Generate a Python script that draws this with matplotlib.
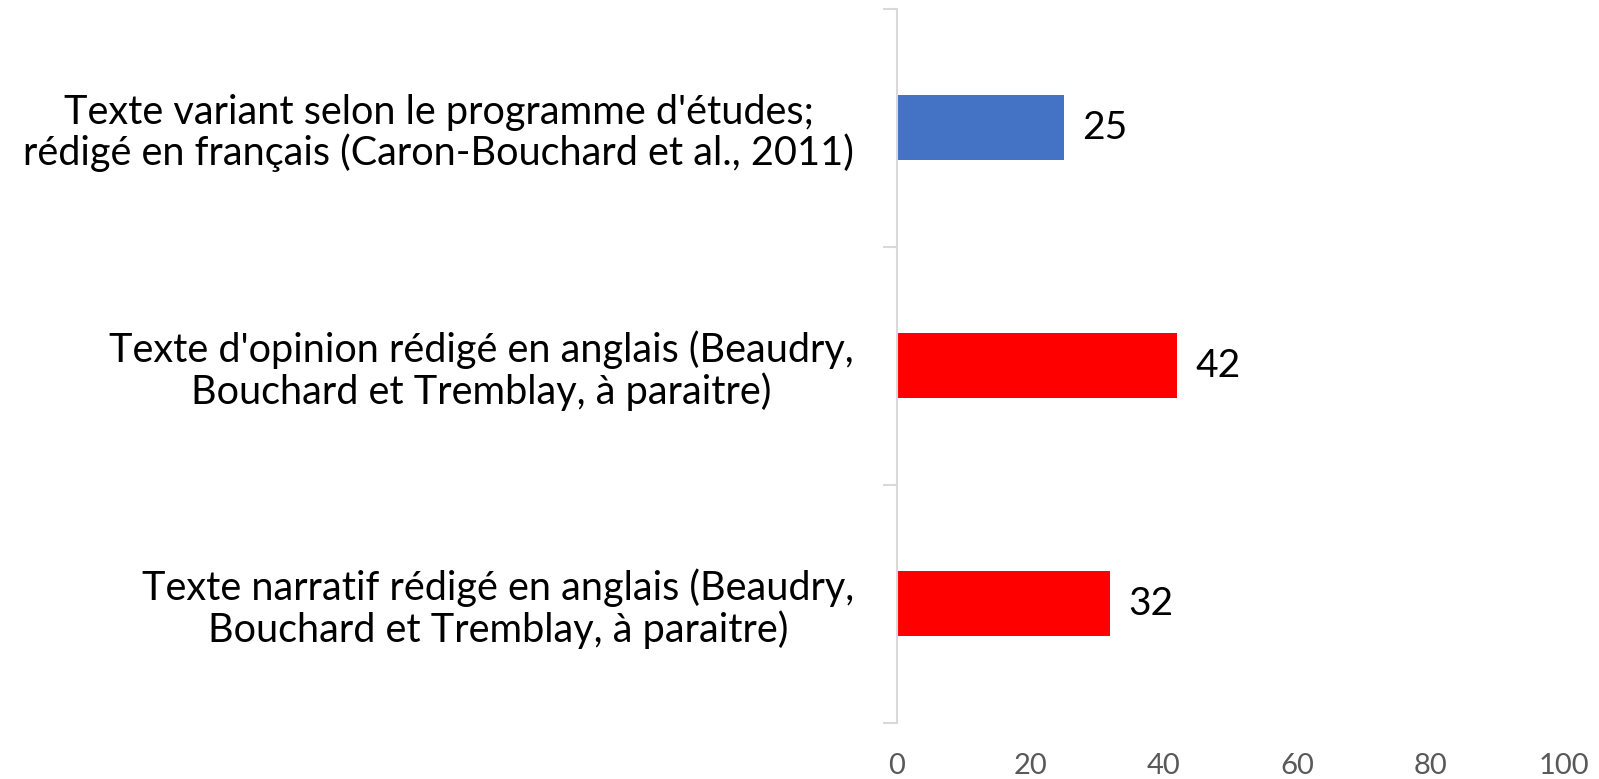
import matplotlib.pyplot as plt
import numpy as np

# data (top to bottom)
categories = [
    "Texte variant selon le programme d'études;\nrédigé en français (Caron-Bouchard et al., 2011)",
    "Texte d'opinion rédigé en anglais (Beaudry,\nBouchard et Tremblay, à paraitre)",
    "Texte narratif rédigé en anglais (Beaudry,\nBouchard et Tremblay, à paraitre)",
]
values = [25, 42, 32]
colors = ['#4472C4', '#FF0000', '#FF0000']
xticks = [0, 20, 40, 60, 80, 100]

plt.rcParams['font.family'] = ['Lato', 'DejaVu Sans']

fig = plt.figure(figsize=(15.99, 7.79), dpi=100)
ax = fig.add_axes([0.561, 0.072, 0.417, 0.9165])

pos = np.arange(len(categories))
ax.barh(pos, values, height=0.273, color=colors)
ax.set_ylim(len(categories) - 0.5, -0.5)
ax.set_xlim(0, 100)

# data labels
for p, v in zip(pos, values):
    ax.annotate(str(v), xy=(v, p), xytext=(13, 0), textcoords='offset points',
                va='center', ha='left', fontsize=28, color='black')

# spines
for s in ['top', 'right', 'bottom']:
    ax.spines[s].set_visible(False)
ax.spines['left'].set_color('#D9D9D9')
ax.spines['left'].set_linewidth(1.5)

# category labels at centres, tick marks at boundaries
ax.set_yticks(pos)
ax.set_yticklabels(categories, fontsize=28.5, multialignment='center', linespacing=1.1)
ax.tick_params(axis='y', which='major', length=0, pad=31)
ax.set_yticks(np.arange(-0.5, len(categories)), minor=True)
ax.tick_params(axis='y', which='minor', length=10, width=1.5, color='#D9D9D9')

ax.set_xticks(xticks)
ax.tick_params(axis='x', length=0, pad=22, labelsize=21, labelcolor='#595959')

plt.savefig('out.png', dpi=100)
